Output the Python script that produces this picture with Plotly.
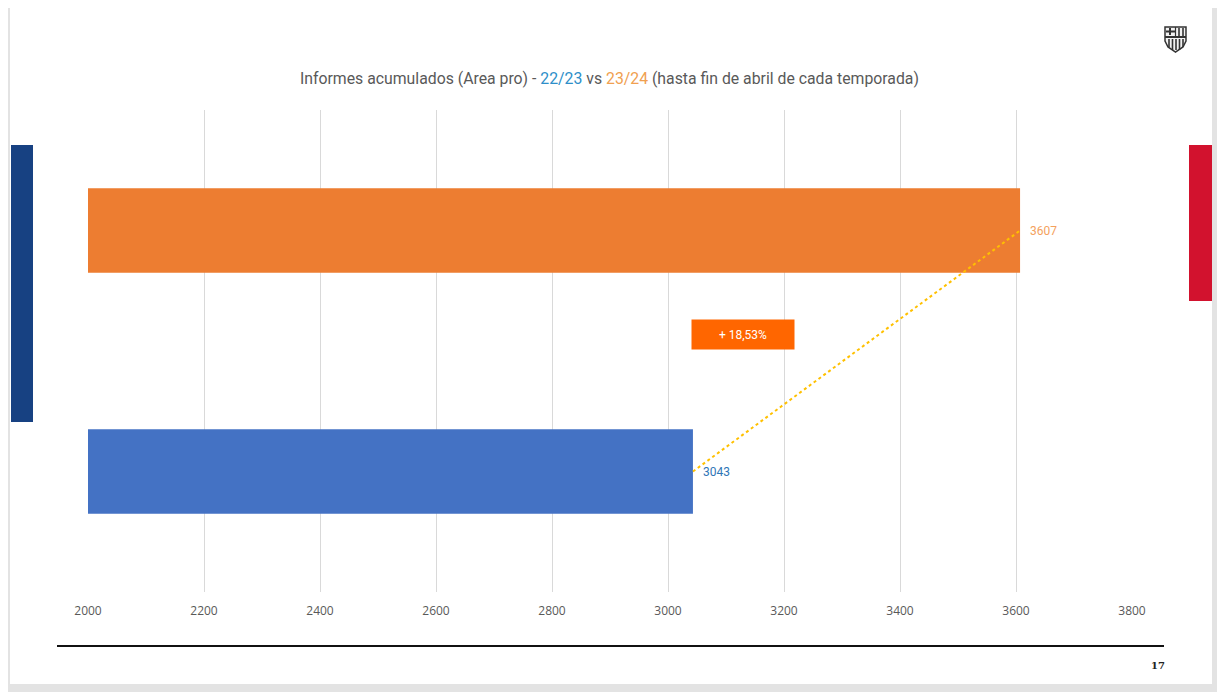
import plotly.graph_objects as go

# === Datos ===
temporadas = ["22/23", "23/24"]
informes = [3043, 3607]
colores_barra = ["#4472c4", "#ed7d31"]
colores_etiqueta = ["#2e75b6", "#f4a15d"]
variacion = "+ 18,53%"
ticks_x = [2000, 2200, 2400, 2600, 2800, 3000, 3200, 3400, 3600, 3800]
pagina = "17"

# la página html deja 8 px de margen: coordenadas de pantalla -> figura
OFF = 8
W, H = 1225 - OFF, 692 - OFF
L, R, T, B = 88 - OFF, 93, 110 - OFF, 100
PW, PH = W - L - R, H - T - B


def px(x):
    return (x - OFF - L) / PW


def py(y):
    return (H - B - (y - OFF)) / PH


def rect(x0, y0, x1, y1, color, layer="below", line=None):
    return dict(type="rect", xref="paper", yref="paper",
                x0=px(x0), x1=px(x1), y0=py(y1), y1=py(y0),
                fillcolor=color, line=line or dict(width=0), layer=layer)


def path(points, close=True):
    s = "M " + " L ".join(f"{px(a):.5f},{py(b):.5f}" for a, b in points)
    return s + (" Z" if close else "")


def trazo(points, width):
    return dict(type="path", xref="paper", yref="paper", path=path(points, close=False),
                line=dict(color="#333333", width=width), layer="above")


fig = go.Figure()

# barras horizontales
fig.add_trace(go.Bar(
    x=informes, y=temporadas, orientation="h",
    marker=dict(color=colores_barra, line=dict(width=0)),
    width=0.35, hoverinfo="skip", base=0,
))

# línea punteada entre los extremos
fig.add_trace(go.Scatter(
    x=informes, y=temporadas, mode="lines",
    line=dict(color="#ffc000", width=2, dash="dot"),
    hoverinfo="skip",
))

shapes = [
    rect(0, 0, 1225, 692, "#e3e3e3"),              # marco gris
    rect(10, 8, 1212, 684, "white"),               # diapositiva
    rect(11, 145, 33, 422, "#174182", layer="above"),  # franja azul
    rect(1189, 145, 1212, 301, "#d2122e", layer="above"),  # franja roja
    dict(type="line", xref="paper", yref="paper",
         x0=px(57), x1=px(1164), y0=py(646), y1=py(646),
         line=dict(color="#111111", width=2), layer="above"),
]

# escudo (aproximación simple)
escudo = [(1165, 27), (1186, 27), (1186, 41), (1183, 47), (1175.5, 52),
          (1168, 47), (1165, 41)]
shapes.append(dict(type="path", xref="paper", yref="paper", path=path(escudo),
                   fillcolor="#f2f2f2", line=dict(color="#333333", width=1.5),
                   layer="above"))
shapes.append(dict(type="path", xref="paper", yref="paper",
                   path=path([(1165, 36), (1186, 36), (1186, 38), (1165, 38)]),
                   fillcolor="#333333", line=dict(width=0), layer="above"))
shapes.append(trazo([(1175.5, 27), (1175.5, 36)], 1.2))
shapes.append(trazo([(1170, 28), (1170, 35)], 2))
shapes.append(trazo([(1166, 31.5), (1175, 31.5)], 2))
for xs in (1179, 1183):
    shapes.append(trazo([(xs, 28), (xs, 36)], 1.6))
for xs in (1169, 1172.5, 1176, 1179.5, 1183):
    shapes.append(trazo([(xs, 39), (xs, 47 if xs in (1169, 1183) else 50)], 1.6))

annotations = [
    dict(xref="paper", yref="paper", x=px(609), y=py(78),
         text="Informes acumulados (Area pro) - "
              "<span style='color:#2e8fc9'>22/23</span> vs "
              "<span style='color:#f0a050'>23/24</span> "
              "(hasta fin de abril de cada temporada)",
         showarrow=False, xanchor="center", yanchor="middle",
         font=dict(family="Roboto", size=15.8, color="#595959")),
    dict(xref="paper", yref="paper", x=px(1158), y=py(665), text=f"<b>{pagina}</b>",
         showarrow=False, xanchor="center", yanchor="middle",
         font=dict(family="DejaVu Serif", size=10, color="#222222")),
    dict(x=3129, y=0.57, text=variacion, showarrow=False,
         xanchor="center", yanchor="middle", width=100, height=27,
         bgcolor="#ff6600", font=dict(family="Roboto", size=12, color="white")),
]
for t, v, c in zip(temporadas, informes, colores_etiqueta):
    annotations.append(dict(x=v, y=t, text=str(v), showarrow=False,
                            xanchor="left", yanchor="middle", xshift=8,
                            font=dict(family="Roboto", size=12, color=c)))

fig.update_layout(
    width=W, height=H,
    margin=dict(l=L, r=R, t=T, b=B, pad=0),
    paper_bgcolor="#e3e3e3", plot_bgcolor="rgba(0,0,0,0)",
    showlegend=False,
    shapes=shapes,
    annotations=annotations,
    xaxis=dict(range=[2000, 3800], tickvals=ticks_x, showgrid=True,
               gridcolor="#d9d9d9", gridwidth=1, zeroline=False, showline=False,
               ticks="outside", ticklen=8, tickcolor="rgba(0,0,0,0)",
               tickfont=dict(family="Open Sans", size=12, color="#595959"),
               fixedrange=True),
    yaxis=dict(categoryorder="array", categoryarray=temporadas, range=[-0.5, 1.5],
               showticklabels=False, showgrid=False, zeroline=False,
               showline=False, fixedrange=True),
)

fig.write_html("out.html", config={"displayModeBar": False})
